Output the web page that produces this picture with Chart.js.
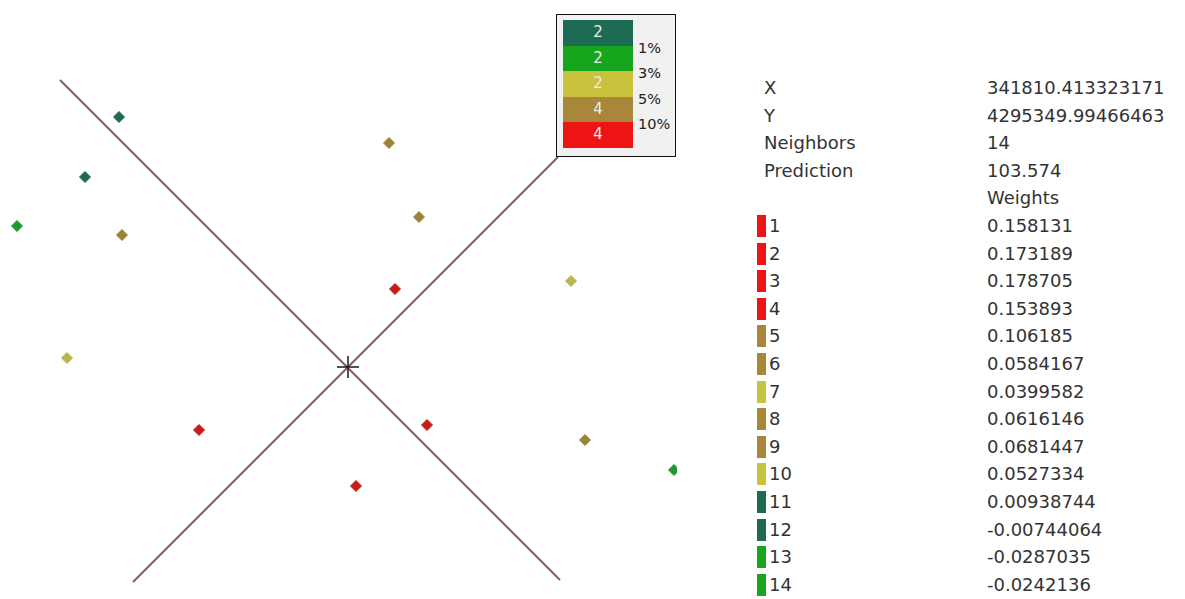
<!DOCTYPE html>
<html>
<head>
<meta charset="utf-8">
<script src="https://cdn.jsdelivr.net/npm/chart.js@4/dist/chart.umd.min.js"></script>
<style>
  body { margin: 0; background: #fff; width: 1185px; height: 599px; overflow: hidden; position: relative; font-family: "DejaVu Sans", sans-serif; }
  #map { position: absolute; left: 0; top: 0; }
  #legend { position: absolute; left: 556px; top: 14px; width: 118px; height: 141px; border: 1.5px solid #111; background: #f1f1f1; }
  #legend .sw { position: absolute; left: 6px; width: 70px; color: #e8f0e8; font-size: 15px; text-align: center; }
  #legend .lab { position: absolute; left: 81px; font-size: 14.5px; color: #222; line-height: 16px; white-space: nowrap; }
  #info { position: absolute; left: 0; top: 74px; }
  .row { position: absolute; height: 27.6px; line-height: 27.6px; font-size: 18px; color: #333; white-space: nowrap; }
  .row .chip { position: absolute; left: 757px; top: 3px; width: 9px; height: 22px; }
  .row .k { position: absolute; left: 764px; }
  .row .k.num { left: 769px; }
  .row .v { position: absolute; left: 987px; }
</style>
</head>
<body>
<canvas id="map" width="677" height="599"></canvas>
<div id="legend"></div>
<div id="info"></div>
<script>
// legend classes (count of neighbours in each, and the break labels)
const classCounts = [2, 2, 2, 4, 4];
const classBreaks = ['1%', '3%', '5%', '10%'];
const classColors = ['#1e6b55', '#17a51d', '#c9c23c', '#a8873a', '#ef1414'];
const pointColors = ['#1f6a50', '#1c9a2c', '#b9b64f', '#9c8236', '#c81c1c'];

// neighbours, ordered by weight number (map units, y grows downward)
const neighborX = [395, 427, 356, 199, 419, 389, 571, 585, 122, 67, 85, 119, 674, 17];
const neighborY = [289, 425, 486, 430, 217, 143, 281, 440, 235, 358, 177, 117, 470, 226];
const neighborClass = [4, 4, 4, 4, 3, 3, 2, 3, 3, 2, 0, 0, 1, 1];
const weights = ['0.158131', '0.173189', '0.178705', '0.153893', '0.106185', '0.0584167', '0.0399582',
  '0.0616146', '0.0681447', '0.0527334', '0.00938744', '-0.00744064', '-0.0287035', '-0.0242136'];

// prediction location and search sector lines
const target = { x: 348, y: 367 };
const sectorLine1 = [{ x: 60, y: 80 }, { x: 560, y: 580 }];
const sectorLine2 = [{ x: 133, y: 582 }, { x: 558, y: 157 }];

const infoLabels = ['X', 'Y', 'Neighbors', 'Prediction'];
const infoValues = ['341810.413323171', '4295349.99466463', '14', '103.574'];

const pointSets = classColors.map((c, ci) => ({
  type: 'scatter',
  order: 0,
  data: neighborX.map((x, i) => ({ x, y: neighborY[i] })).filter((_, i) => neighborClass[i] === ci),
  pointStyle: 'rectRot',
  radius: 5.5,
  backgroundColor: pointColors[ci],
  borderColor: pointColors[ci],
  borderWidth: 1
}));

const lineStyle = { type: 'line', order: 2, borderColor: '#8a5a5a', borderWidth: 2, pointRadius: 0, showLine: true };

new Chart(document.getElementById('map'), {
  type: 'scatter',
  data: {
    datasets: [
      { ...lineStyle, data: sectorLine1 },
      { ...lineStyle, data: sectorLine2 },
      { type: 'scatter', order: 1, data: [target], pointStyle: 'cross', radius: 11, borderColor: '#1a1a1a', borderWidth: 1.5 },
      ...pointSets
    ]
  },
  options: {
    responsive: false,
    animation: false,
    layout: { padding: 0, autoPadding: false },
    plugins: { legend: { display: false }, tooltip: { enabled: false } },
    scales: {
      x: { type: 'linear', min: 0, max: 677, display: false },
      y: { type: 'linear', min: 0, max: 599, reverse: true, display: false }
    }
  }
});

// class legend box
const legend = document.getElementById('legend');
const swH = 25.6;
classCounts.forEach((n, i) => {
  const d = document.createElement('div');
  d.className = 'sw';
  d.style.top = (5 + i * swH) + 'px';
  d.style.height = swH + 'px';
  d.style.lineHeight = swH + 'px';
  d.style.background = classColors[i];
  d.textContent = n;
  legend.appendChild(d);
});
classBreaks.forEach((b, i) => {
  const d = document.createElement('div');
  d.className = 'lab';
  d.style.top = (5 + (i + 1) * swH - 6) + 'px';
  d.textContent = b;
  legend.appendChild(d);
});

// info table
const info = document.getElementById('info');
const rowH = 27.6;
function addRow(i, key, val, color) {
  const r = document.createElement('div');
  r.className = 'row';
  r.style.top = (i * rowH) + 'px';
  if (color) {
    const c = document.createElement('div');
    c.className = 'chip';
    c.style.background = color;
    r.appendChild(c);
  }
  const k = document.createElement('span');
  k.className = 'k' + (color ? ' num' : '');
  k.textContent = key;
  const v = document.createElement('span');
  v.className = 'v';
  v.textContent = val;
  r.appendChild(k);
  r.appendChild(v);
  info.appendChild(r);
}
infoLabels.forEach((l, i) => addRow(i, l, infoValues[i]));
addRow(4, '', 'Weights');
weights.forEach((w, i) => addRow(5 + i, String(i + 1), w, classColors[neighborClass[i]]));
</script>
</body>
</html>
